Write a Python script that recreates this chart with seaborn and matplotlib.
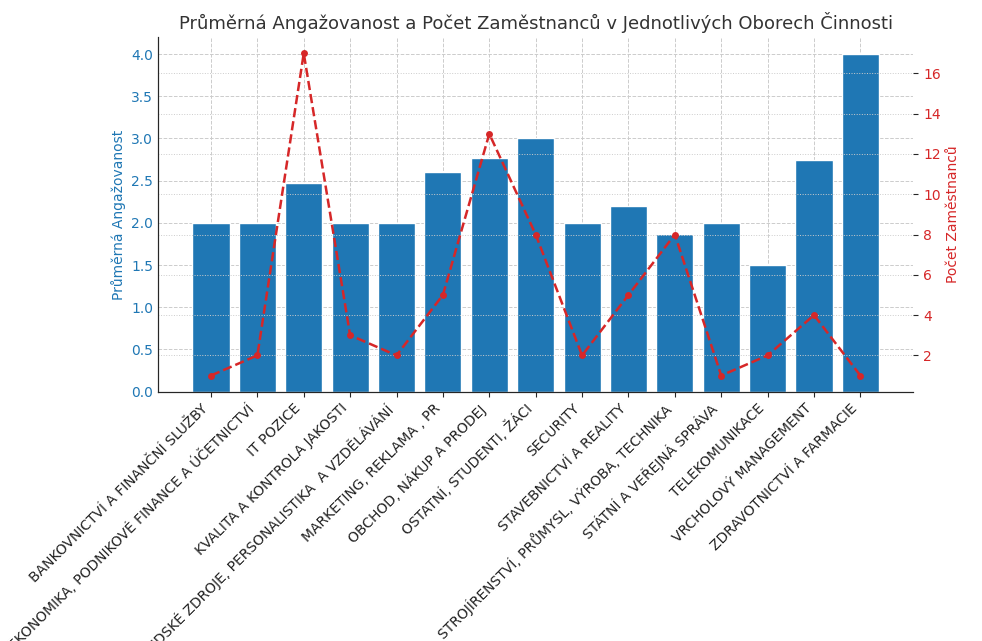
import numpy as np
import pandas as pd
import matplotlib
matplotlib.use("Agg")
import matplotlib.pyplot as plt
import seaborn as sns

obory = [
    "BANKOVNICTVÍ A FINANČNÍ SLUŽBY",
    "EKONOMIKA, PODNIKOVÉ FINANCE A ÚČETNICTVÍ",
    "IT POZICE",
    "KVALITA A KONTROLA JAKOSTI",
    "LIDSKÉ ZDROJE, PERSONALISTIKA  A VZDĚLÁVÁNÍ",
    "MARKETING, REKLAMA , PR",
    "OBCHOD, NÁKUP A PRODEJ",
    "OSTATNÍ, STUDENTI, ŽÁCI",
    "SECURITY",
    "STAVEBNICTVÍ A REALITY",
    "STROJÍRENSTVÍ, PRŮMYSL, VÝROBA, TECHNIKA",
    "STÁTNÍ A VEŘEJNÁ SPRÁVA",
    "TELEKOMUNIKACE",
    "VRCHOLOVÝ MANAGEMENT",
    "ZDRAVOTNICTVÍ A FARMACIE",
]
angazovanost = [2.0, 2.0, 2.47, 2.0, 2.0, 2.6, 2.77, 3.0, 2.0, 2.2, 1.87, 2.0, 1.5, 2.75, 4.0]
pocet = [1, 2, 17, 3, 2, 5, 13, 8, 2, 5, 8, 1, 2, 4, 1]

df = pd.DataFrame({"Obor": obory, "Angazovanost": angazovanost,
                   "Pocet": pocet, "pos": np.arange(len(obory))})

sns.set_style("ticks")
plt.rcParams["font.family"] = ["DejaVu Sans"]

fig, ax1 = plt.subplots(figsize=(9.82, 6.41), dpi=100)
sns.barplot(data=df, x="Obor", y="Angazovanost", color="#1f77b4",
            saturation=1, width=0.8, ax=ax1)
ax1.set_xlabel("")
ax1.set_ylabel("Průměrná Angažovanost", color="#1f77b4")
ax1.tick_params(axis="y", labelcolor="#1f77b4", length=0)
ax1.tick_params(axis="x", labelcolor="#222222")
ax1.grid(True, linestyle="--", color="#cccccc", linewidth=0.7)
ax1.set_axisbelow(True)
ax1.set_ylim(0, 4.2)
plt.setp(ax1.get_xticklabels(), rotation=45, ha="right")

ax2 = ax1.twinx()
sns.lineplot(data=df, x="pos", y="Pocet", color="#d62728", linestyle="--",
             marker="o", markersize=5, markeredgewidth=0, linewidth=1.8,
             sort=False, ax=ax2)
ax2.set_ylabel("Počet Zaměstnanců", color="#d62728")
ax2.tick_params(axis="y", labelcolor="#d62728")
ax2.grid(True, axis="y", linestyle=":", color="#cccccc", linewidth=0.7)
ax2.set_xlabel("")

for a in (ax1, ax2):
    a.spines["top"].set_visible(False)
    a.spines["right"].set_visible(False)

ax1.set_title("Průměrná Angažovanost a Počet Zaměstnanců v Jednotlivých Oborech Činnosti",
              fontsize=13, color="#333333")

fig.subplots_adjust(left=0.161, right=0.93, top=0.942, bottom=0.389)
fig.savefig("out.png", dpi=100)
